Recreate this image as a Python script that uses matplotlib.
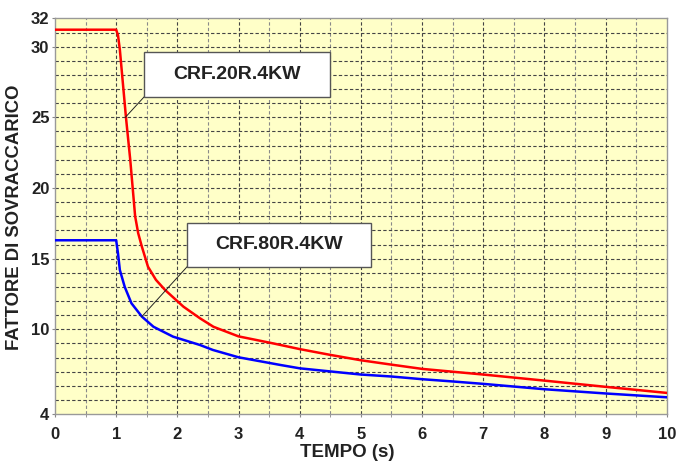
import matplotlib
matplotlib.use("Agg")
import matplotlib.pyplot as plt
from matplotlib.patches import Rectangle

# --- data ---
red_x = [0, 1.0, 1.03, 1.06, 1.16, 1.23, 1.31, 1.36, 1.42, 1.52, 1.65, 1.8, 2.1, 2.37, 2.59, 3.0, 3.57, 4.0, 4.5, 5.0, 5.5, 6.0, 6.5, 7.0, 8.0, 9.0, 10.0]
red_y = [31.2, 31.2, 30.8, 29.8, 25.0, 22.0, 18.0, 16.8, 15.85, 14.43, 13.5, 12.78, 11.6, 10.78, 10.18, 9.5, 9.0, 8.6, 8.19, 7.81, 7.5, 7.2, 7.0, 6.8, 6.37, 5.93, 5.5]
blue_x = [0, 1.0, 1.03, 1.06, 1.14, 1.25, 1.42, 1.61, 1.93, 2.37, 2.58, 3.0, 3.68, 4.0, 4.5, 5.0, 5.5, 6.0, 6.5, 7.0, 8.0, 9.0, 10.0]
blue_y = [16.3, 16.3, 15.37, 14.2, 13.0, 11.84, 10.9, 10.18, 9.48, 8.89, 8.54, 8.02, 7.48, 7.24, 7.02, 6.8, 6.66, 6.47, 6.31, 6.14, 5.76, 5.46, 5.19]

series_labels = ["CRF.20R.4KW", "CRF.80R.4KW"]
x_ticks = list(range(0, 11))
x_minor = [i + 0.5 for i in range(0, 10)]
y_ticks = [4, 10, 15, 20, 25, 30, 32]
y_minor = list(range(4, 33))
xlabel = "TEMPO (s)"
ylabel = "FATTORE DI SOVRACCARICO"

# label boxes (data coords): x0, y0, x1, y1 ; leader line from box corner to curve
box1 = (1.46, 26.46, 4.49, 29.6)
lead1 = ((1.46, 26.46), (1.15, 25.0))
box2 = (2.15, 14.43, 5.16, 17.54)
lead2 = ((2.2, 14.62), (1.42, 10.9))

plt.rcParams['font.family'] = ['Liberation Sans', 'DejaVu Sans']
txt = '#222222'

fig = plt.figure(figsize=(6.82, 4.61), dpi=100)
ax = fig.add_axes([55/682, 1-414.1/461, (666.7-55)/682, (414.1-18.4)/461])
ax.set_facecolor('#FFFFC8')

ax.set_xlim(0, 10)
ax.set_ylim(4, 32)
ax.set_xticks(x_ticks)
ax.set_xticks(x_minor, minor=True)
ax.set_yticks(y_ticks)
ax.set_yticks(y_minor, minor=True)

# grid
for v in x_ticks[1:-1]:
    ax.axvline(v, color='#444444', lw=0.8, ls=(0, (3, 2)), zorder=1)
for v in x_minor:
    ax.axvline(v, color='#8a8a8a', lw=0.8, ls=(0, (3, 2)), zorder=1)
for v in y_minor[1:-1]:
    ax.axhline(v, color='#444444', lw=0.8, ls=(0, (3, 2)), zorder=1)

ax.plot(red_x, red_y, color='#FF0000', lw=1.8, zorder=3)
ax.plot(blue_x, blue_y, color='#0000FF', lw=1.8, zorder=3)

for spine in ax.spines.values():
    spine.set_color('#999999')
    spine.set_linewidth(1.0)

ax.tick_params(axis='x', which='both', length=2.5, color='#888888', pad=7,
               labelsize=12, labelcolor=txt)
ax.tick_params(axis='y', which='major', length=2.5, color='#888888', pad=1.5,
               labelsize=12, labelcolor=txt)
ax.tick_params(axis='y', which='minor', length=0)
for lab in ax.get_xticklabels() + ax.get_yticklabels():
    lab.set_fontweight('bold')

ax.set_xlabel(xlabel, fontsize=13.5, fontweight='bold', color=txt)
ax.xaxis.set_label_coords(0.477, -0.075)
ax.set_ylabel(ylabel, fontsize=13.3, fontweight='bold', color=txt)
ax.yaxis.set_label_coords(-0.052, 0.497)

for (bx0, by0, bx1, by1), (p0, p1), lab in [(box1, lead1, series_labels[0]),
                                             (box2, lead2, series_labels[1])]:
    ax.plot([p0[0], p1[0]], [p0[1], p1[1]], color='#222222', lw=0.7, zorder=4)
    ax.add_patch(Rectangle((bx0, by0), bx1 - bx0, by1 - by0, facecolor='white',
                           edgecolor='#555555', lw=1.0, zorder=5))
    ax.text((bx0 + bx1) / 2, (by0 + by1) / 2, lab, ha='center', va='center',
            fontsize=14, fontweight='bold', color=txt, zorder=6)

fig.savefig('out.png', dpi=100)
